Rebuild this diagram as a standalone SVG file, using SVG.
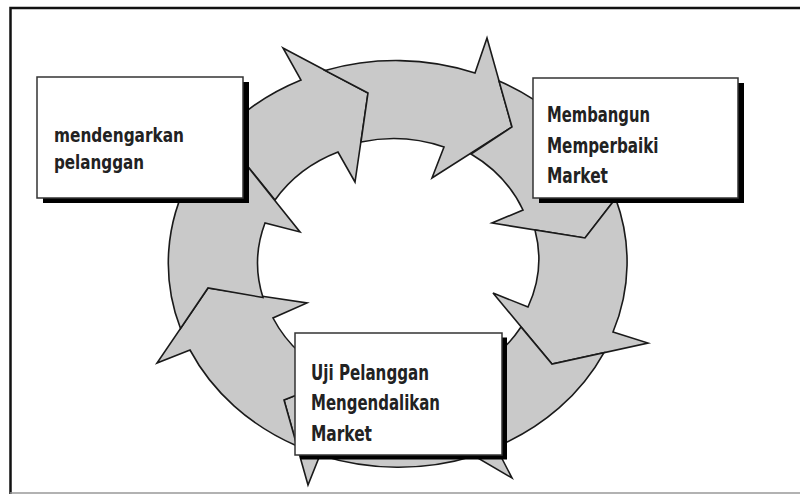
<svg xmlns="http://www.w3.org/2000/svg" width="800" height="494" viewBox="0 0 800 494">
<style>
.arr{fill:#c9c9c9;stroke:#1a1a1a;stroke-width:1.6;stroke-linejoin:miter}
.box{fill:#fff;stroke:#333;stroke-width:1.5}
.shadow{fill:#000}
.t{font-family:"DejaVu Sans Condensed","DejaVu Sans",sans-serif;font-stretch:condensed;font-weight:bold;fill:#222}
</style>
<rect width="800" height="494" fill="#fff"/>
<path d="M10.5,494 V8 H800" fill="none" stroke="#111" stroke-width="2.5"/>
<path d="M10,493 H800" fill="none" stroke="#999" stroke-width="1.5"/>
<g id="connectors">
<path class="arr" d="M209,148 A229.6,203.3 0 0 1 301,80 L283,48 L368,93 L355,182 L338,152 A141,125.8 0 0 0 275,200 L232,147 Z"/>
<path class="arr" d="M325,70.5 A229.6,203.3 0 0 1 475,73 L487,38 L512,127 L432,178 L444,147 A141,125.8 0 0 0 361,142 L368,93 Z"/>
<path class="arr" d="M499,81 A229.6,203.3 0 0 1 602,170 L640,167 L585,238 L492,223 L523,210 A141,125.8 0 0 0 471,154 L512,127 Z"/>
<path class="arr" d="M615.6,198.4 A229.6,203.3 0 0 1 613,332 L648,343 L552,364 L493,293 L528,307 A141,125.8 0 0 0 535,230 L585,238 Z"/>
<path class="arr" d="M604,352.6 A229.6,203.3 0 0 1 496,447 L512,478 L442,437 L452,348 L466,374 A141,125.8 0 0 0 521,327 L552,364 Z"/>
<path class="arr" d="M474,456 A229.6,203.3 0 0 1 320,455 L308,485 L284,400 L363,368 L375,387 A141,125.8 0 0 0 448,382 L442,437 Z"/>
<path class="arr" d="M297,446 A229.6,203.3 0 0 1 190,350 L157,363 L208,288 L307,303 L273,318 A141,125.8 0 0 0 340,378 L284,400 Z"/>
<path class="arr" d="M180.5,328.5 A229.6,203.3 0 0 1 191,175 L165,150 L232,147 L300,232 L265,223 A141,125.8 0 0 0 263,297.5 L208,288 Z"/>
</g>
<g id="node-listen">
<rect class="shadow" x="43" y="82" width="206" height="121"/>
<rect class="box" x="37" y="77" width="206" height="121"/>
<text class="t" font-size="20" x="54" y="142" textLength="130" lengthAdjust="spacingAndGlyphs">mendengarkan</text>
<text class="t" font-size="20" x="54" y="168.5" textLength="90" lengthAdjust="spacingAndGlyphs">pelanggan</text>
</g>
<g id="node-build">
<rect class="shadow" x="539" y="83" width="205" height="120"/>
<rect class="box" x="533" y="78" width="205" height="120"/>
<text class="t" font-size="22" x="547" y="122" textLength="103" lengthAdjust="spacingAndGlyphs">Membangun</text>
<text class="t" font-size="22" x="547" y="152.5" textLength="111.5" lengthAdjust="spacingAndGlyphs">Memperbaiki</text>
<text class="t" font-size="22" x="547" y="183" textLength="61" lengthAdjust="spacingAndGlyphs">Market</text>
</g>
<g id="node-test">
<rect class="shadow" x="300" y="337.5" width="207" height="122"/>
<rect class="box" x="295" y="333" width="207" height="122"/>
<text class="t" font-size="22" x="311" y="380" textLength="118" lengthAdjust="spacingAndGlyphs">Uji Pelanggan</text>
<text class="t" font-size="22" x="311" y="410" textLength="129" lengthAdjust="spacingAndGlyphs">Mengendalikan</text>
<text class="t" font-size="22" x="311" y="440.5" textLength="61" lengthAdjust="spacingAndGlyphs">Market</text>
</g>
</svg>
